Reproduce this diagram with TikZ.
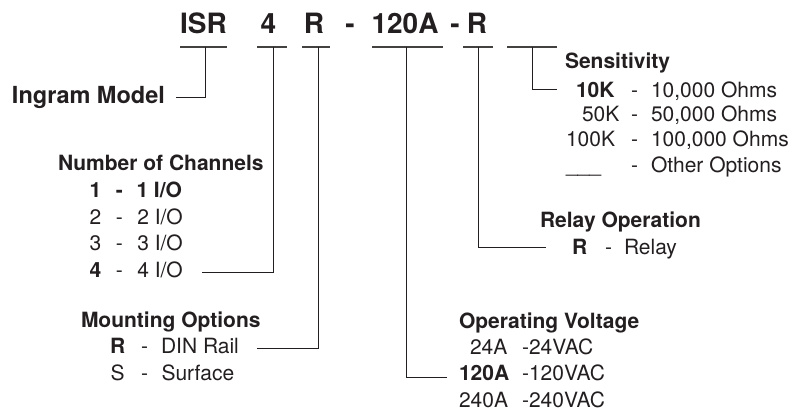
\documentclass[tikz,border=0pt]{standalone}
\usepackage{fontspec}
\setmainfont{TeX Gyre Heros}
\definecolor{ink}{HTML}{231F20}
\begin{document}
\begin{tikzpicture}[x=1pt,y=-1pt,
  every node/.style={inner sep=0pt, outer sep=0pt, text=ink},
  code/.style={font=\fontsize{28}{32}\selectfont\bfseries, anchor=base},
  big/.style={font=\fontsize{23.5}{28}\selectfont\bfseries, anchor=base west},
  head/.style={font=\fontsize{21}{25}\selectfont\bfseries, anchor=base west},
  txt/.style={font=\fontsize{21}{25}\selectfont, anchor=base west},
  btxt/.style={font=\fontsize{21}{25}\selectfont\bfseries, anchor=base west},
  link/.style={draw=ink, line width=0.9pt},
  uline/.style={draw=ink!85, line width=1.1pt}]
\useasboundingbox (0,0) rectangle (791,413);

% model code
\node[code] (cISR) at (203.5,33) {ISR};
\node[code] (c4)   at (268.5,33) {4};
\node[code] (cR)   at (314,33)   {R};
\node[code] (cd1)  at (350,33)   {-};
\node[code] (c120) at (405,33)   {120A};
\node[code] (cd2)  at (455,33)   {-};
\node[code] (cR2)  at (477,33)   {R};

% underline segments
\coordinate (uA1) at (180,47); \coordinate (uA2) at (227,47);
\coordinate (uB1) at (257,47); \coordinate (uB2) at (287,47);
\coordinate (uC1) at (302,47); \coordinate (uC2) at (330,47);
\coordinate (uD1) at (372,47); \coordinate (uD2) at (443,47);
\coordinate (uE1) at (463,47); \coordinate (uE2) at (493,47);
\coordinate (uF1) at (507,47); \coordinate (uF2) at (557,47);
\draw[uline] (uA1) -- (uA2);
\draw[uline] (uB1) -- (uB2);
\draw[uline] (uC1) -- (uC2);
\draw[uline] (uD1) -- (uD2);
\draw[uline] (uE1) -- (uE2);
\draw[uline] (uF1) -- (uF2);

% drop points and ends
\coordinate (tA) at (205,47);  \coordinate (eA) at (176,97);
\coordinate (tB) at (273,47);  \coordinate (eB) at (202,272);
\coordinate (tC) at (318,47);  \coordinate (eC) at (257,348);
\coordinate (tD) at (406,47);  \coordinate (eD) at (447,377);
\coordinate (tE) at (478,47);  \coordinate (eE) at (546,247);
\coordinate (tF) at (532,47);  \coordinate (eF) at (557,89);
\draw[link] (tA) |- (eA);
\draw[link] (tB) |- (eB);
\draw[link] (tC) |- (eC);
\draw[link] (tD) |- (eD);
\draw[link] (tE) |- (eE);
\draw[link] (tF) |- (eF);

% Ingram model
\node[big] (ingram) at (12,103.3) {Ingram Model};

% Number of channels
\node[head] (chH) at (58,170.7) {Number of Channels};
\node[btxt] (ch1a) at (89.5,197.3) {1};
\node[btxt] (ch1b) at (115.8,197.3) {-};
\node[btxt] (ch1c) at (136.5,197.3) {1 I/O};
\node[txt]  (ch2a) at (89.5,224) {2};
\node[txt]  (ch2b) at (115.8,224) {-};
\node[txt]  (ch2c) at (137.3,224) {2 I/O};
\node[txt]  (ch3a) at (89.5,250.7) {3};
\node[txt]  (ch3b) at (115.8,250.7) {-};
\node[txt]  (ch3c) at (137.3,250.7) {3 I/O};
\node[btxt] (ch4a) at (89.5,277.3) {4};
\node[txt]  (ch4b) at (115.8,277.3) {-};
\node[txt]  (ch4c) at (137.3,277.3) {4 I/O};

% Mounting options
\node[head] (moH) at (81,327) {Mounting Options};
\node[btxt] (mo1a) at (110,353) {R};
\node[txt]  (mo1b) at (141,353) {-};
\node[txt]  (mo1c) at (161,353) {DIN Rail};
\node[txt]  (mo2a) at (110.5,380) {S};
\node[txt]  (mo2b) at (141,380) {-};
\node[txt]  (mo2c) at (161.5,380) {Surface};

% Relay operation
\node[head] (reH) at (540,227) {Relay Operation};
\node[btxt] (re1a) at (572,254) {R};
\node[txt]  (re1b) at (605,254) {-};
\node[txt]  (re1c) at (624,254) {Relay};

% Operating voltage
\node[head] (voH) at (459,328.3) {Operating Voltage};
\node[txt]  (vo1a) at (470,354) {24A};
\node[txt]  (vo1b) at (522,354) {-24VAC};
\node[btxt] (vo2a) at (459,380.7) {120A};
\node[txt]  (vo2b) at (522,380.7) {-120VAC};
\node[txt]  (vo3a) at (459,407.3) {240A};
\node[txt]  (vo3b) at (522,407.3) {-240VAC};

% Sensitivity
\node[head] (seH) at (565,68) {Sensitivity};
\node[btxt] (se1a) at (576,97) {10K};
\node[txt]  (se1b) at (631,97) {-};
\node[txt]  (se1c) at (651,97) {10,000 Ohms};
\node[txt]  (se2a) at (582,121) {50K};
\node[txt]  (se2b) at (631,121) {-};
\node[txt]  (se2c) at (651,121) {50,000 Ohms};
\node[txt]  (se3a) at (566,146) {100K};
\node[txt]  (se3b) at (631,146) {-};
\node[txt]  (se3c) at (651,146) {100,000 Ohms};
\node[txt]  (se4a) at (566,172) {\_\_\_};
\node[txt]  (se4b) at (631,172) {-};
\node[txt]  (se4c) at (651,172) {Other Options};
\end{tikzpicture}
\end{document}
